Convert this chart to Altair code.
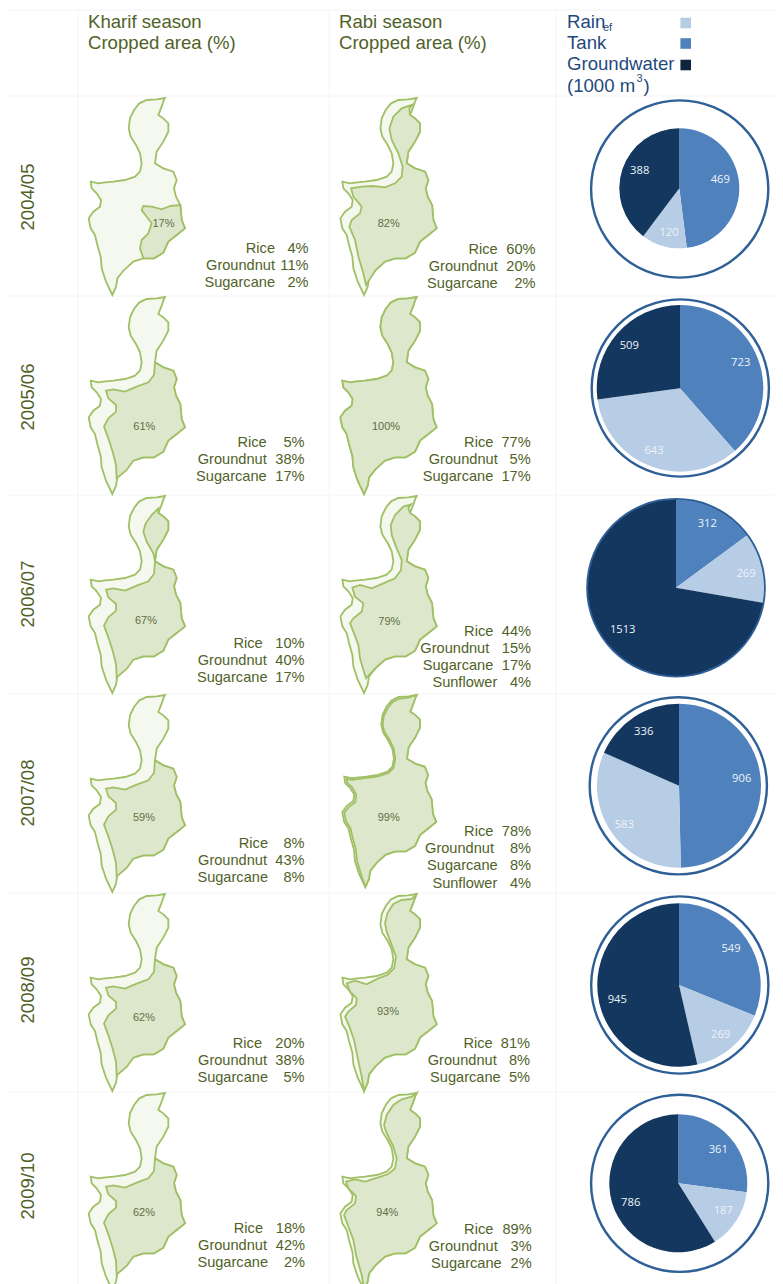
import math
import altair as alt
import pandas as pd

# ---------- chart values ----------
YEARS = ["2004/05", "2005/06", "2006/07", "2007/08", "2008/09", "2009/10"]
KHARIF_AREA = [17, 61, 67, 59, 62, 62]
RABI_AREA = [82, 100, 79, 99, 93, 94]
KHARIF_CROPS = [
    [("Rice", 4), ("Groundnut", 11), ("Sugarcane", 2)],
    [("Rice", 5), ("Groundnut", 38), ("Sugarcane", 17)],
    [("Rice", 10), ("Groundnut", 40), ("Sugarcane", 17)],
    [("Rice", 8), ("Groundnut", 43), ("Sugarcane", 8)],
    [("Rice", 20), ("Groundnut", 38), ("Sugarcane", 5)],
    [("Rice", 18), ("Groundnut", 42), ("Sugarcane", 2)],
]
RABI_CROPS = [
    [("Rice", 60), ("Groundnut", 20), ("Sugarcane", 2)],
    [("Rice", 77), ("Groundnut", 5), ("Sugarcane", 17)],
    [("Rice", 44), ("Groundnut", 15), ("Sugarcane", 17), ("Sunflower", 4)],
    [("Rice", 78), ("Groundnut", 8), ("Sugarcane", 8), ("Sunflower", 4)],
    [("Rice", 81), ("Groundnut", 8), ("Sugarcane", 5)],
    [("Rice", 89), ("Groundnut", 3), ("Sugarcane", 2)],
]
TANK = [469, 723, 312, 906, 549, 361]
RAIN = [120, 643, 269, 583, 269, 187]
GROUNDWATER = [388, 509, 1513, 336, 945, 786]

# ---------- map outlines (traced, in 1/3 px) ----------
EAST = [(337,885),(348,860),(352,835),(372,810),(400,785),(430,775),(462,775),(490,758),(505,725),(530,705),
        (555,685),(545,660),(541,615),(528,590),(522,565),(530,540),(520,515),(490,505),(465,490),(470,455),
        (490,425),(505,395),(505,370),(490,355),(475,345),(485,320),(490,305),(495,294)]
WEST = [(470,298),(440,300),(418,310),(402,330),(390,355),(386,385),(392,410),(408,435),(420,460),(425,490),
        (420,515),(405,530),(375,540),(340,545),(310,548),(295,550),(272,545),(275,565),(290,580),(303,600),
        (300,620),(280,635),(266,655),(272,685),(285,705),(292,735),(302,770),(305,805),(318,845)]
R17 = [(510,618),(485,628),(455,620),(430,618),(425,630),(440,650),(455,670),(445,700),(425,720),
       (420,745)] + EAST[5:13]
R_MAIN = [(465,490),(462,528),(445,550),(410,563),(375,578),(340,571),(318,575),(325,598),(348,618),(348,638),
          (325,658),(312,683),(325,718),(338,758),(348,798),(350,838),(380,813)] + EAST[4:18]
R_NORTH = [(475,331),(455,351),(437,376),(430,401),(440,431),(460,466),(465,490)] + EAST[19:25]
R79 = [(478,319),(455,326),(430,351),(417,381),(420,411),(435,451),(450,486),(448,516),(430,541),(395,556),
       (360,571),(325,561),(302,569),(310,596),(335,616),(330,641),(305,661),(295,676),(305,701),(320,741),
       (325,781),(335,816),(343,841)] + EAST[3:25] + [(470,330)]
R82 = [(482,314),(450,325),(425,350),(413,385),(420,420),(440,460),(453,500),(450,530),(430,550),(400,562),
       (365,558),(330,560),(298,565),(305,590),(330,620),(325,640),(300,660),(293,680),(310,720),(320,770),
       (335,820),(343,855)] + EAST[3:25] + [(473,325)]
W99 = [(470,302),(442,305),(421,315),(406,334),(394,357),(390,385),(396,408),(412,433),(424,458),(429,490),
       (424,518),(408,534),(377,544),(342,549),(312,553),(297,555),(279,552),(282,565),(296,578),(309,600),
       (306,624),(286,639),(272,656),(278,684),(291,703),(298,734),(308,768),(311,803),(323,843)]
W93 = [(480,309),(450,312),(425,324),(407,352),(400,382),(405,407),(420,447),(433,482),(427,517),(407,537),
       (380,547),(345,565),(310,554),(285,562),(295,587),(315,607),(313,627),(290,647),(280,662),(293,692),
       (307,732),(317,782),(330,842)]
W94 = [(480,305),(450,313),(425,330),(405,360),(397,390),(403,410),(425,455),(435,490),(430,520),(410,537),
       (380,547),(340,560),(310,553),(283,560),(290,580),(313,603),(310,625),(285,645),(277,660),(290,695),
       (305,735),(313,780),(330,840)]

FULL = WEST + EAST
KHARIF_REGIONS = [[R17], [R_MAIN], [R_MAIN, R_NORTH], [R_MAIN], [R_MAIN], [R_MAIN]]
RABI_REGIONS = [[R82], [FULL], [R79], [W99 + EAST], [W93 + EAST], [W94 + EAST]]

# ---------- layout ----------
ROW_STEP = 199
COL_STEP = 251.7
OLIVE = "#4f6228"
BLUE = "#1f497d"
C_RAIN, C_TANK, C_GW = "#b7cce5", "#4f81bd", "#14375f"
OUT_FILL, IN_FILL = "#f5f8ef", "#dde7cc"
MAP_STROKE = "#a0c065"

K_NAME_X = [[275,275,275],[266.7,266.7,266.7],[262.7,266.7,267.5],[268,267,268],[262,267,268],[263,267,268]]
K_PCT_X = [308.5,304.5,304.5,304.5,304.5,305]
K_Y0 = [249,442.7,644,844,1044,1229]
R_NAME_X = [[497.7,497.7,497.7],[493.3,497.7,493.3],[493.3,489.3,493.3,497.3],[493.3,494,497.7,497.3],
            [492.7,496.7,500.7],[493.3,497.7,501.7]]
R_PCT_X = [535.5,530.7,531,531,530,531.7]
R_Y0 = [249.5,443,631.5,832,1044,1229.5]
K_LABEL = [(163.5,224),(144.3,426.7),(146,620.7),(144,818),(144,1018),(144,1213)]
R_LABEL = [(388.7,224),(386,426.7),(389.3,621.7),(388.7,817.7),(388,1011.7),(387.3,1213.3)]
YEAR_Y = [197,397,594,793,990,1186]
PIE_C = [(679.3,188.3),(680,388.3),(676,587.7),(679,785.7),(679,985),(678.3,1183.3)]
PIE_R = [60,83.3,88,82,81.7,69]
RING_C = [(679.7,189),(680.3,388),(676,587.7),(678.3,785.8),(679.8,985),(679.7,1183.3)]
RING_R = 88.6
PIE_LABELS = [
    [(720.3,180),(669,233),(639.7,171)],
    [(740.7,362.7),(654,450.7),(629.3,345.7)],
    [(707.3,524.3),(746,574),(622.7,630)],
    [(741.7,778.7),(624.3,825),(643.7,732.3)],
    [(731,949),(720.7,1035.3),(617.3,999.7)],
    [(718.3,1150.3),(723.3,1211),(630.7,1203.3)],
]

X = alt.X("x:Q", scale=alt.Scale(domain=[8, 775]), axis=None)
Y = alt.Y("y:Q", scale=alt.Scale(domain=[8, 1284], reverse=True), axis=None)


def text_layer(rows, size, color, font="Liberation Sans", align="left", angle=0):
    return alt.Chart(pd.DataFrame(rows)).mark_text(
        fontSize=size, color=color, font=font, align=align, baseline="middle", angle=angle
    ).encode(x=X, y=Y, text="t:N")


def feature(points, col, row, fill, shrink=1.0):
    tip_x, tip_y = 495, 294
    ring = [[(tip_x + (px - tip_x) * shrink) / 3 + col * COL_STEP,
             (tip_y + (py - tip_y) * shrink) / 3 + row * ROW_STEP] for px, py in points]
    ring.append(ring[0])
    return {"type": "Feature", "properties": {"fill": fill},
            "geometry": {"type": "Polygon", "coordinates": [ring]}}


features = []
for r in range(6):
    for col, regions in enumerate([KHARIF_REGIONS, RABI_REGIONS]):
        s = 0.975 if (r == 3 and col == 1) else 1.0
        features.append(feature(FULL, col, r, OUT_FILL, s))
        for reg in regions[r]:
            features.append(feature(reg, col, r, IN_FILL, s))

maps = alt.Chart(alt.Data(values=features)).mark_geoshape(
    stroke=MAP_STROKE, strokeWidth=1.8
).encode(
    color=alt.Color("properties.fill:N", scale=None)
).project(type="identity", scale=1, translate=[-8, -8])

# faint table lines
v_lines = pd.DataFrame({"x": [78, 329, 556], "y": [10, 10, 10], "y2": [1284, 1284, 1284]})
h_lines = pd.DataFrame({"y": [10, 96, 296, 495, 694, 893, 1092], "x": [8] * 7, "x2": [775] * 7})
grid_v = alt.Chart(v_lines).mark_rule(color="#f3f4f4", strokeWidth=1).encode(x=X, y=Y, y2="y2:Q")
grid_h = alt.Chart(h_lines).mark_rule(color="#f3f4f4", strokeWidth=1).encode(x=X, x2="x2:Q", y=Y)

# rings and pies
ring_rows = [{"x": c[0], "y": c[1], "t0": 0, "t1": 2 * math.pi, "r": RING_R + 1.2, "r2": RING_R - 1.2}
             for c in RING_C]
rings = alt.Chart(pd.DataFrame(ring_rows)).mark_arc(color="#2f5f97").encode(
    x=X, y=Y,
    theta=alt.Theta("t0:Q", scale=None), theta2="t1:Q",
    radius=alt.Radius("r:Q", scale=None), radius2="r2:Q",
)
pie_rows, pie_text = [], []
for r in range(6):
    vals = [(TANK[r], C_TANK), (RAIN[r], C_RAIN), (GROUNDWATER[r], C_GW)]
    total = sum(v for v, _ in vals)
    acc = 0
    for i, (v, colr) in enumerate(vals):
        pie_rows.append({"x": PIE_C[r][0], "y": PIE_C[r][1], "t0": acc / total * 2 * math.pi,
                         "t1": (acc + v) / total * 2 * math.pi, "r": PIE_R[r], "c": colr})
        acc += v
        pie_text.append({"x": PIE_LABELS[r][i][0], "y": PIE_LABELS[r][i][1], "t": str(v)})
pies = alt.Chart(pd.DataFrame(pie_rows)).mark_arc().encode(
    x=X, y=Y,
    theta=alt.Theta("t0:Q", scale=None), theta2="t1:Q",
    radius=alt.Radius("r:Q", scale=None),
    color=alt.Color("c:N", scale=None),
)

# texts
names, pcts, labels = [], [], []
for r in range(6):
    for crops, name_x, pct_x, y0 in [(KHARIF_CROPS[r], K_NAME_X[r], K_PCT_X[r], K_Y0[r]),
                                     (RABI_CROPS[r], R_NAME_X[r], R_PCT_X[r], R_Y0[r])]:
        for i, (n, p) in enumerate(crops):
            names.append({"x": name_x[i], "y": y0 + 17.2 * i, "t": n})
            pcts.append({"x": pct_x, "y": y0 + 17.2 * i, "t": f"{p}%"})
    labels.append({"x": K_LABEL[r][0], "y": K_LABEL[r][1], "t": f"{KHARIF_AREA[r]}%"})
    labels.append({"x": R_LABEL[r][0], "y": R_LABEL[r][1], "t": f"{RABI_AREA[r]}%"})

years = [{"x": 27.5, "y": YEAR_Y[i], "t": YEARS[i]} for i in range(6)]
head_olive = [{"x": 88, "y": 22, "t": "Kharif season"}, {"x": 88, "y": 43, "t": "Cropped area (%)"},
              {"x": 339, "y": 22, "t": "Rabi season"}, {"x": 339, "y": 43, "t": "Cropped area (%)"}]
head_blue = [{"x": 567, "y": 22, "t": "Rain"}, {"x": 567, "y": 43, "t": "Tank"},
             {"x": 567, "y": 64, "t": "Groundwater"}, {"x": 567, "y": 85.5, "t": "(1000 m"},
             {"x": 643.5, "y": 85.5, "t": ")"}]
head_small = [{"x": 603, "y": 27.5, "t": "ef"}, {"x": 636.5, "y": 79, "t": "3"}]
legend = pd.DataFrame({"x": [685.7] * 3, "y": [23, 43.5, 65], "c": [C_RAIN, C_TANK, "#0f243e"]})
legend_marks = alt.Chart(legend).mark_square(size=112, opacity=1).encode(
    x=X, y=Y, color=alt.Color("c:N", scale=None))

chart = alt.layer(
    grid_v, grid_h, maps, rings, pies, legend_marks,
    text_layer(names, 14.6, OLIVE, align="right"),
    text_layer(pcts, 14.6, OLIVE, align="right"),
    text_layer(labels, 11, "#5f6f45", align="center"),
    text_layer(pie_text, 11.2, "#eef3f9", font="Open Sans", align="center"),
    text_layer(years, 18.5, OLIVE, align="center", angle=270),
    text_layer(head_olive, 18.6, OLIVE),
    text_layer(head_blue, 18.6, BLUE),
    text_layer(head_small, 11, BLUE),
).resolve_scale(color="independent").properties(
    width=767, height=1276, padding=0,
    autosize=alt.AutoSizeParams(type="none"),
).configure_view(stroke=None)

chart.save("out.html", embed_options={"renderer": "svg", "actions": False})
